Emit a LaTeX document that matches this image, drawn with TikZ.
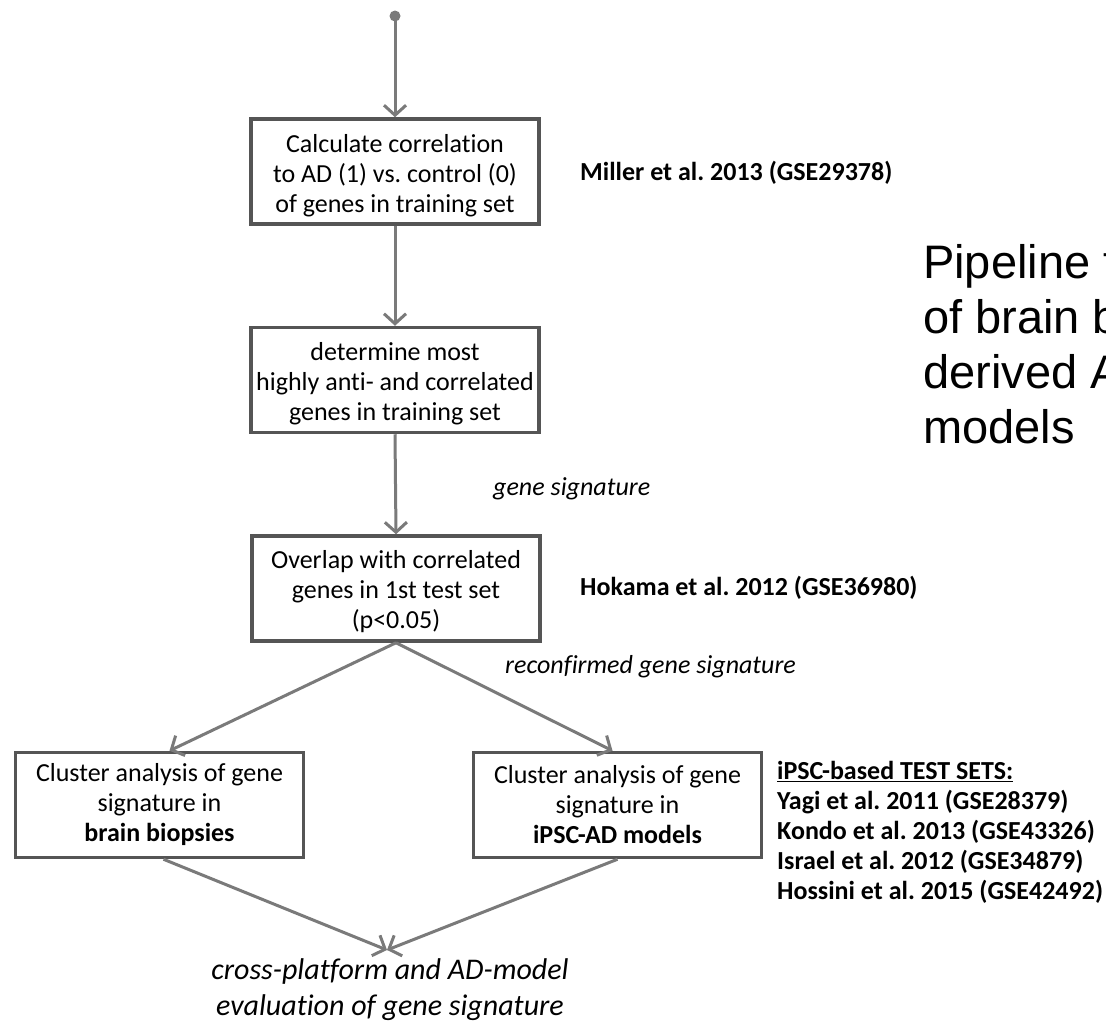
\documentclass[tikz,border=0pt]{standalone}
\usepackage{fontspec}
\setmainfont{Carlito}[Ligatures=NoCommon]
\newfontfamily\arialfont{Liberation Sans}
\usetikzlibrary{arrows.meta}
\definecolor{linegray}{HTML}{7A7A7A}
\definecolor{boxgray}{HTML}{555555}
\tikzset{
  stepbox/.style={draw=boxgray, line width=3.5pt, minimum width=288pt, minimum height=105pt,
    inner sep=0pt, align=center, font=\fontsize{26}{30}\selectfont},
  flow/.style={draw=linegray, line width=3pt, -{Straight Barb[length=10pt,width=22pt,line width=3pt]}},
  reftext/.style={inner sep=0pt, font=\fontsize{26}{30}\selectfont\bfseries},
  labeltext/.style={inner sep=0pt, font=\fontsize{26}{30}\selectfont\itshape},
}
\begin{document}
\frenchspacing
\begin{tikzpicture}[x=1pt, y=-1pt]
\useasboundingbox (0,0) rectangle (1106,1028);
\clip (0,0) rectangle (1106,1028);
\fill[white] (0,0) rectangle (1106,1028);

\coordinate (start) at (395,16);
\fill[linegray] (start) circle (5.5pt);

\node[stepbox] (b1) at (395,171.5) {\rule{0pt}{26pt}Calculate correlation\\to AD (1) vs. control (0)\\of genes in training set};
\node[stepbox] (b2) at (395,380) {\rule{0pt}{26pt}determine most\\highly anti- and correlated\\genes in training set};
\node[stepbox] (b3) at (396,588.5) {\rule{0pt}{24pt}Overlap with correlated\\genes in 1st test set\\(p<0.05)};
\node[stepbox] (bl) at (159.5,805) {Cluster analysis of gene\\signature in\\\textbf{brain biopsies}};
\node[stepbox] (br) at (617.5,805) {Cluster analysis of gene\\signature in\\\textbf{iPSC-AD models}};

\node[reftext, anchor=west] (miller) at (580,173) {Miller et al. 2013 (GSE29378)};
\node[reftext, anchor=west] (hokama) at (580,588) {Hokama et al. 2012 (GSE36980)};
\node[reftext, anchor=north west, align=left] (ipsc) at (777,761) {\underline{iPSC-based TEST SETS:}\\Yagi et al. 2011 (GSE28379)\\Kondo et al. 2013 (GSE43326)\\Israel et al. 2012 (GSE34879)\\Hossini et al. 2015 (GSE42492)};

\node[labeltext, anchor=west] (gs) at (493,489) {gene signature};
\node[labeltext, anchor=west] (rgs) at (505,667) {reconfirmed gene signature};

\coordinate (merge) at (387,950);
\node[inner sep=0pt, align=center, font=\fontsize{30}{36}\selectfont\itshape, anchor=north] (eval) at (390,958) {cross-platform and AD-model\\evaluation of gene signature};

\node[inner sep=0pt, anchor=north west, align=left, font=\arialfont\fontsize{47}{55}\selectfont] (title) at (923,244) {Pipeline for the analysis\\of brain biopsies and iPSC-\\derived AD\\models};

\draw[flow] (start) -- (b1.north);
\draw[flow] (b1.south) -- (b2.north);
\draw[flow] (b2.south) -- (b3.north);
\draw[flow] (b3.south) -- ([xshift=10pt]bl.north);
\draw[flow] (b3.south) -- ([xshift=-5pt]br.north);
\draw[flow] (br.south) -- (merge);
\draw[flow] ([xshift=4pt]bl.south) -- (merge);
\end{tikzpicture}
\end{document}
